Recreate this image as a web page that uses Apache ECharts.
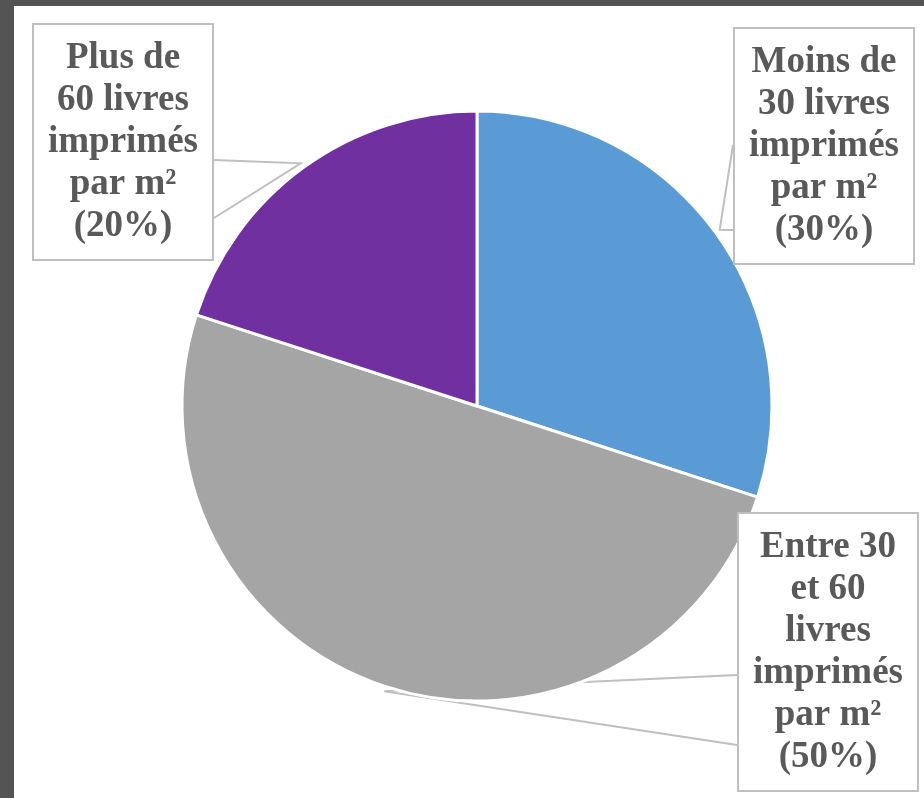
<!DOCTYPE html>
<html>
<head>
<meta charset="utf-8">
<script src="https://cdn.jsdelivr.net/npm/echarts@6/dist/echarts.min.js"></script>
<style>
  html, body { margin: 0; padding: 0; background: #545454; }
  #frame { position: absolute; left: 0; top: 0; width: 924px; height: 798px; background: #545454; }
  #chart { position: absolute; left: 14px; top: 6px; width: 910px; height: 792px; background: #fff; }
</style>
</head>
<body>
<div id="frame"><div id="chart"></div></div>
<script>
// slices, clockwise from 12 o'clock
var categories = [
  'Moins de 30 livres imprimés par m²',
  'Entre 30 et 60 livres imprimés par m²',
  'Plus de 60 livres imprimés par m²'
];
var labelLines = [
  ['Moins de', '30 livres', 'imprimés', 'par m²'],
  ['Entre 30', 'et 60', 'livres', 'imprimés', 'par m²'],
  ['Plus de', '60 livres', 'imprimés', 'par m²']
];
var values = [30, 50, 20];
var colors = ['#5b9bd5', '#a5a5a5', '#7030a0'];

var pieCenter = [463, 400];
var pieRadius = 295;
var startAngle = 90;

// callout box centres (chart div px), and where the pointer meets the box:
// [side (-1 left / +1 right), y offset from box centre, y offset from box centre]
var boxCenters = [[810, 140], [814, 646], [109, 136]];
var pointerBases = [[-1, -1, 84], [-1, 23, 93], [1, 18, 76]];

var total = values.reduce(function (a, b) { return a + b; }, 0);

// callout tip: just outside the slice, on its middle angle
function calloutTip(i) {
  var before = 0;
  for (var k = 0; k < i; k++) before += values[k];
  var deg = startAngle - 360 * (before + values[i] / 2) / total;
  var rad = deg * Math.PI / 180;
  var r = pieRadius + 5;
  return [pieCenter[0] + r * Math.cos(rad), pieCenter[1] - r * Math.sin(rad)];
}

var chart = echarts.init(document.getElementById('chart'));

var option = {
  animation: false,
  series: [{
    type: 'pie',
    center: pieCenter,
    radius: pieRadius,
    startAngle: startAngle,
    clockwise: true,
    data: categories.map(function (name, i) {
      return { name: name, value: values[i], itemStyle: { color: colors[i] } };
    }),
    itemStyle: { borderColor: '#fff', borderWidth: 3 },
    label: {
      show: true,
      formatter: function (p) {
        return labelLines[p.dataIndex].join('\n') + '\n(' + Math.round(p.percent) + '%)';
      },
      fontFamily: '"Liberation Serif", "Times New Roman", serif',
      fontWeight: 'bold',
      fontSize: 37,
      lineHeight: 42,
      color: '#595959',
      align: 'center',
      backgroundColor: '#fff',
      borderColor: '#bfbfbf',
      borderWidth: 2,
      padding: [12, 14, 12, 14]
    },
    labelLine: {
      show: true,
      showAbove: true,
      length: 5,
      length2: 0,
      lineStyle: { color: '#bfbfbf', width: 2 }
    },
    labelLayout: function (params) {
      var i = params.dataIndex;
      var c = boxCenters[i];
      var b = pointerBases[i];
      var edgeX = c[0] + b[0] * params.labelRect.width / 2;
      var tip = calloutTip(i);
      return {
        x: c[0], y: c[1], align: 'center', verticalAlign: 'middle',
        labelLinePoints: [[edgeX, c[1] + b[1]], tip, [edgeX, c[1] + b[2]]]
      };
    }
  }]
};

chart.setOption(option);
</script>
</body>
</html>
